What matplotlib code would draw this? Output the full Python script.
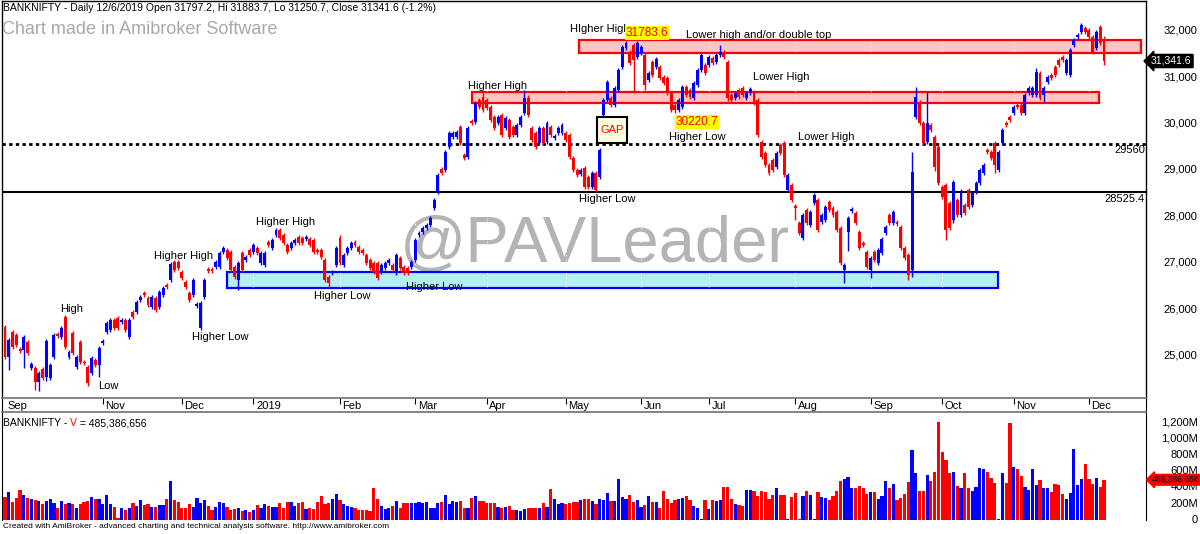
import matplotlib
matplotlib.use('Agg')
import matplotlib.pyplot as plt
from matplotlib.patches import Rectangle
import numpy as np

plt.rcParams['font.family'] = ['Liberation Sans', 'DejaVu Sans']

W, H = 1200, 534

# daily candles, Sep 2018 - 6 Dec 2019
opens = [
    25610, 24970, 25510, 25440, 25140, 25120, 25290, 24730, 24730, 24430,
    24710, 24540, 24510, 24970, 25460, 25400, 25830, 24970, 25480, 24750,
    25290, 24860, 24750, 24620, 24900, 24800, 25270, 25510, 25550, 25760,
    25810, 25720, 25760, 25400, 25940, 25940, 26200, 26350, 26240, 26050,
    26240, 26050, 26300, 26520, 26630, 27010, 27010, 26800, 26580, 26350,
    26300, 26070, 25590, 26260, 26860, 26860, 26910, 26910, 27230, 27270,
    27230, 26910, 26630, 27210, 27060, 27270, 27230, 27320, 26990, 26950,
    27450, 27320, 27600, 27700, 27600, 27380, 27320, 27420, 27550, 27530,
    27510, 27510, 27490, 27270, 27270, 27060, 26690, 26780, 26950, 27530,
    26950, 27210, 27320, 27450, 27340, 27270, 27170, 27060, 26990, 26990,
    26800, 26890, 26990, 26950, 26780, 27100, 26910, 26890, 26910, 27060,
    27600, 27660, 27750, 27810, 28180, 28520, 29020, 29000, 29490, 29710,
    29710, 29920, 29320, 29280, 30050, 30030, 30510, 30570, 30510, 30350,
    30140, 30010, 30180, 29900, 30080, 29920, 29750, 29970, 30230, 30550,
    29900, 29800, 29580, 29900, 29600, 29920, 29690, 29800, 29800, 29800,
    29750, 29260, 29000, 28910, 29040, 28850, 28630, 28930, 28850, 30180,
    30510, 30550, 30400, 30720, 31220, 31630, 31540, 31690, 31430, 31520,
    31480, 30940, 31320, 31220, 31220, 31000, 30980, 30660, 30400, 30290,
    30350, 30790, 30720, 30550, 30830, 31150, 31260, 31260, 31410, 31320,
    31480, 31540, 31320, 30610, 30550, 30720, 30760, 30550, 30660, 30680,
    30510, 29600, 29360, 29100, 29210, 29060, 29540, 29580, 28570, 28670,
    28220, 27850, 27530, 28140, 27810, 28290, 28350, 27880, 27920, 28310,
    28180, 28090, 27750, 26840, 27660, 28110, 28070, 27660, 27420, 27230,
    26840, 27230, 26990, 27210, 27640, 28030, 27850, 27880, 27770, 27320,
    27170, 26840, 30140, 30460, 30010, 29600, 29970, 29710, 29490, 28630,
    28670, 28290, 27920, 28350, 28030, 28240, 28570, 28240, 28520, 28720,
    28930, 29430, 29390, 29580, 29000, 29580, 30010, 30140, 30230, 30400,
    30400, 30230, 30660, 30610, 30610, 31090, 30610, 30890, 31040, 31220,
    31370, 31430, 31090, 31040, 31690, 31860, 31970, 32060, 32010, 31860,
    31630, 32080, 31797.2,
]
closes = [
    24970, 25330, 25180, 25230, 25100, 25400, 25050, 24820, 24430, 24620,
    24510, 25310, 24790, 25440, 25420, 25590, 25180, 25080, 25050, 24970,
    24860, 24840, 24410, 24950, 24800, 25160, 25310, 25700, 25760, 25590,
    25590, 25760, 25550, 25760, 25830, 26150, 26260, 26300, 26090, 26260,
    25980, 26370, 26450, 26480, 26970, 26840, 26880, 26670, 26480, 26200,
    26630, 26110, 26130, 26630, 26820, 26820, 27010, 27210, 27320, 27100,
    26840, 26690, 26990, 26840, 27120, 27170, 27380, 27210, 27210, 27210,
    27380, 27490, 27700, 27530, 27420, 27230, 27420, 27490, 27420, 27420,
    27550, 27380, 27230, 27230, 27120, 26630, 26560, 26800, 27320, 26990,
    27170, 27320, 27420, 27380, 27230, 27210, 26990, 26890, 26800, 26670,
    26950, 26990, 27060, 26840, 27170, 26890, 26780, 26780, 27010, 27490,
    27640, 27750, 27810, 27960, 28350, 28890, 28930, 29390, 29800, 29800,
    29820, 29580, 29260, 29900, 30010, 30440, 30350, 30290, 30330, 30080,
    29900, 30140, 29750, 30120, 29710, 29750, 29970, 30140, 30550, 30180,
    29640, 29490, 29900, 29580, 30010, 29750, 29730, 29900, 29970, 29640,
    29280, 29000, 28890, 29000, 28630, 28630, 28930, 28570, 29430, 30510,
    30890, 30400, 30770, 31150, 31650, 31730, 31300, 31370, 31730, 31650,
    30830, 31090, 31040, 31390, 30980, 30870, 30660, 30290, 30290, 30510,
    30790, 30610, 30570, 30870, 31150, 31480, 31090, 31430, 31300, 31480,
    31540, 31430, 30550, 30510, 30660, 30570, 30610, 30660, 30740, 30440,
    29750, 29280, 29100, 28930, 29000, 29360, 29360, 28890, 28890, 28350,
    28180, 27640, 28030, 27850, 28090, 28460, 27700, 28030, 28200, 28140,
    28030, 27700, 26990, 26950, 27960, 28160, 27850, 27320, 27380, 26910,
    27100, 27060, 27270, 27510, 27770, 27850, 28090, 27830, 27320, 27100,
    26730, 28950, 30570, 30010, 29580, 30010, 29860, 29060, 28720, 28420,
    27700, 27750, 28740, 28030, 28520, 28070, 28200, 28500, 28720, 29000,
    29100, 29390, 29260, 29100, 29390, 29860, 29970, 30080, 30350, 30350,
    30230, 30610, 30770, 30770, 31110, 30550, 30770, 31000, 30980, 31040,
    31260, 31370, 31370, 31580, 31800, 31910, 32120, 31970, 31860, 31540,
    31970, 31730, 31341.6,
]
# wick length above / below the body, in points
upper_wick = [
    40, 40, 40, 40, 40, 40, 40, 40, 40, 40,  40, 40, 40, 40, 40, 40, 40, 40, 40, 40,
    40, 40, 40, 40, 40, 40, 40, 40, 40, 40,  40, 40, 40, 40, 40, 40, 40, 40, 40, 40,
    40, 40, 40, 40, 40, 40, 40, 40, 40, 40,  40, 40, 40, 40, 40, 40, 40, 40, 40, 40,
    40, 40, 40, 40, 40, 40, 40, 40, 40, 40,  40, 40, 40, 40, 40, 40, 40, 40, 40, 40,
    40, 40, 40, 40, 40, 40, 40, 40, 40, 60,  40, 40, 40, 40, 40, 40, 40, 40, 40, 40,
    40, 40, 40, 40, 40, 40, 40, 40, 40, 40,  40, 40, 40, 40, 40, 40, 40, 40, 40, 40,
    40, 40, 40, 40, 40, 40, 40, 110, 40, 40, 40, 40, 40, 40, 40, 40, 40, 40, 170, 60,
    40, 40, 40, 40, 40, 40, 40, 40, 40, 40,  40, 40, 40, 40, 40, 40, 40, 40, 40, 40,
    40, 40, 40, 40, 40, 40, 40, 40, 53.6, 40, 40, 40, 40, 40, 40, 40, 40, 40, 40, 40,
    40, 40, 40, 40, 40, 40, 40, 40, 40, 40,  150, 40, 40, 40, 40, 40, 40, 40, 40, 40,
    40, 40, 40, 40, 40, 40, 40, 40, 40, 40,  40, 40, 40, 40, 40, 40, 40, 40, 40, 40,
    40, 40, 40, 40, 40, 40, 40, 40, 40, 40,  40, 40, 40, 40, 40, 40, 40, 40, 40, 40,
    40, 440, 220, 40, 40, 670, 40, 40, 40, 40, 40, 40, 40, 40, 60, 40, 40, 40, 40, 40,
    40, 40, 40, 40, 40, 40, 40, 40, 40, 40,  40, 40, 40, 40, 90, 40, 40, 40, 40, 40,
    40, 40, 40, 40, 40, 40, 40, 40, 40, 40,  40, 40, 86.5,
]
lower_wick = [
    40, 280, 40, 40, 40, 390, 40, 40, 170, 190, 40, 80, 40, 40, 40, 40, 40, 40, 40, 40,
    40, 40, 70, 40, 40, 260, 40, 40, 40, 40,  40, 40, 40, 40, 40, 40, 40, 40, 40, 40,
    40, 40, 40, 40, 40, 40, 40, 40, 40, 40,  40, 40, 40, 40, 40, 40, 40, 40, 40, 40,
    40, 40, 220, 40, 40, 40, 40, 40, 40, 40, 40, 40, 40, 40, 40, 40, 40, 40, 40, 40,
    40, 40, 40, 40, 40, 40, 110, 40, 40, 40, 40, 40, 40, 40, 40, 40, 40, 40, 40, 40,
    40, 40, 40, 40, 40, 40, 40, 40, 40, 40,  40, 40, 40, 40, 40, 40, 40, 40, 40, 40,
    40, 40, 40, 40, 40, 40, 40, 40, 40, 40,  40, 40, 40, 40, 40, 40, 40, 40, 40, 40,
    40, 40, 40, 40, 40, 40, 40, 40, 40, 40,  40, 40, 40, 40, 40, 40, 40, 40, 40, 60,
    40, 40, 40, 40, 40, 40, 40, 710, 40, 40, 100, 40, 40, 40, 40, 40, 40, 40, 69.3, 40,
    40, 40, 40, 40, 40, 40, 40, 40, 40, 40,  40, 40, 60, 40, 40, 40, 40, 40, 40, 40,
    40, 40, 40, 40, 40, 40, 40, 40, 40, 40,  260, 40, 40, 40, 40, 40, 40, 40, 40, 40,
    40, 40, 40, 280, 400, 40, 40, 40, 40, 40, 170, 40, 40, 40, 40, 40, 40, 40, 40, 40,
    100, 140, 40, 40, 40, 40, 40, 80, 40, 40, 210, 40, 60, 40, 40, 40, 40, 40, 40, 40,
    40, 40, 40, 170, 40, 40, 40, 40, 40, 40, 40, 40, 40, 40, 40, 40, 150, 40, 40, 40,
    40, 40, 40, 40, 40, 40, 40, 40, 40, 40,  40, 40, 90.9,
]
volume_m = [
    283, 338, 219, 274, 371, 304, 274, 262, 240, 232,
    190, 232, 262, 203, 148, 232, 190, 211, 190, 148,
    190, 219, 232, 287, 262, 253, 190, 308, 198, 160,
    30, 148, 127, 148, 211, 177, 245, 186, 190, 160,
    160, 181, 181, 262, 477, 240, 224, 148, 148, 198,
    160, 270, 211, 245, 169, 127, 160, 219, 203, 160,
    127, 135, 148, 106, 118, 93, 118, 181, 148, 194,
    170, 160, 160, 211, 148, 219, 219, 169, 203, 219,
    135, 148, 139, 219, 295, 190, 203, 253, 316, 245,
    190, 177, 160, 148, 127, 118, 118, 106, 388, 262,
    169, 139, 148, 169, 232, 148, 203, 203, 203, 203,
    219, 203, 219, 148, 148, 203, 219, 308, 190, 232,
    219, 232, 143, 143, 266, 295, 232, 232, 211, 203,
    203, 160, 148, 160, 177, 127, 118, 106, 135, 148,
    148, 148, 148, 211, 160, 380, 253, 190, 203, 190,
    203, 215, 224, 245, 253, 262, 232, 190,
    262, 240, 329, 232, 232, 498, 287, 253, 304, 224,
    245, 160, 181, 295, 219, 219, 148, 350, 262, 203,
    245, 262, 274, 295, 245, 177, 148, 8, 240, 135,
    240, 232, 245, 401, 401, 262, 198, 181, 169, 371,
    371, 359, 295, 359, 338, 253, 304, 392, 304, 304,
    8, 283, 329, 8, 295, 359, 304, 8, 338, 287,
    274, 245, 295, 359, 473, 498, 528, 388, 388, 422,
    388, 316, 338, 338, 262, 295, 473, 388, 443, 245,
    274, 316, 464, 852, 570, 350, 359, 557, 477, 591,
    1203, 836, 738, 570, 591, 420, 388, 582, 388, 359,
    401, 633, 625, 591, 515, 456, 8, 582, 456, 1190,
    654, 625, 540, 409, 371, 625, 430, 485, 388, 397,
    338, 443, 435, 316, 262, 329, 865, 430, 506, 684,
    506, 443, 519, 401, 485.386656,
]

month_labels = ['Sep', 'Nov', 'Dec', '2019', 'Feb', 'Mar', 'Apr', 'May',
                'Jun', 'Jul', 'Aug', 'Sep', 'Oct', 'Nov', 'Dec']
month_bars = [0, 26, 47, 66, 89, 109, 128, 149, 169, 187, 210, 230, 249, 268, 288]

levels = [29560, 28525.4]
price_ticks = [25000, 26000, 27000, 28000, 29000, 30000, 31000, 32000]
vol_ticks = [0, 200, 400, 600, 800, 1000, 1200]

o = np.array(opens)
c = np.array(closes)
hi = np.maximum(o, c) + np.array(upper_wick)
lo = np.minimum(o, c) - np.array(lower_wick)
x = np.arange(len(c))
colors = np.where(c >= o, '#0000ff', '#ff0000')

BLUE, RED = '#0000ff', '#ff0000'
X0, X1 = 2, 1146            # pixel span of the panes
PX_BAR = 1099 / (len(c) - 1)


def box(x0, y0, x1, y1):
    return [x0 / W, 1 - y1 / H, (x1 - x0) / W, (y1 - y0) / H]


def bar_at(px):
    return (px - 5) / PX_BAR


fig = plt.figure(figsize=(W / 100, H / 100), dpi=100)
ax = fig.add_axes(box(X0, 1, X1, 398))
axd = fig.add_axes(box(X0, 398, X1, 412))
axv = fig.add_axes(box(X0, 413, X1, 520))
xlim = (bar_at(X0), bar_at(X1))


def atext(px, py, s, **kw):
    # text placed by pixel position inside the price pane
    ax.text((px - X0) / (X1 - X0), (398 - py) / 397, s, transform=ax.transAxes, **kw)


# --- price pane ---
ax.set_xlim(*xlim)
ax.set_ylim(32661 - 21.55 * 398, 32661 - 21.55 * 1)
ax.set_xticks([])
ax.set_yticks([])
for s in ['top', 'left', 'right']:
    ax.spines[s].set_color('black')
    ax.spines[s].set_linewidth(1)
ax.spines['bottom'].set_visible(False)

atext(595, 245, '@PAVLeader', fontsize=47, color='#b4b4b4', ha='center', va='center', zorder=1)

zones = [
    (bar_at(579), bar_at(1141), 31520, 31790, '#ffc4c4', RED),
    (bar_at(472), bar_at(1099), 30435, 30685, '#ffc4c4', RED),
    (bar_at(227), bar_at(998), 26461, 26793, '#b4f0f0', BLUE),
]
for z0, z1, p0, p1, fc, ec in zones:
    ax.add_patch(Rectangle((z0, p0), z1 - z0, p1 - p0, fc=fc, ec=ec, lw=1.6, zorder=2))
for m in month_bars[1:]:
    ax.axvline(m, color='white', ls=(0, (1, 3)), lw=0.8, zorder=2.5)

ax.axhline(levels[0], color='black', ls=(0, (1.2, 1.2)), lw=2, zorder=3)
ax.axhline(levels[1], color='black', lw=1.5, zorder=3)
atext(1145, 150, '29560', ha='right', va='center', fontsize=8, zorder=6)
atext(1145, 199, '28525.4', ha='right', va='center', fontsize=8, zorder=6)

ax.vlines(x, lo, hi, colors=colors, lw=1.0, zorder=4)
ax.bar(x, np.maximum(np.abs(c - o), 18), bottom=np.minimum(o, c), width=0.78,
       color=colors, lw=0, zorder=5)

ax.add_patch(Rectangle((bar_at(597), 29580), bar_at(627) - bar_at(597), 560,
                       fc='#ffffe0', ec='black', lw=1.5, zorder=6))
atext(612, 130, 'GAP', color=RED, fontsize=8, ha='center', va='center', zorder=7)

labels = [
    (72, 309, 'High'), (108, 386, 'Low'), (184, 256, 'Higher High'),
    (220, 337, 'Higher Low'), (286, 222, 'Higher High'), (342, 296, 'Higher Low'),
    (434, 287, 'Higher Low'), (498, 86, 'Higher High'), (600, 29, 'HIgher High'),
    (759, 35, 'Lower high and/or double top'), (607, 199, 'Higher Low'),
    (697, 137, 'Higher Low'), (781, 77, 'Lower High'), (826, 137, 'Lower High'),
]
for px, py, s in labels:
    atext(px, py, s, fontsize=8, ha='center', va='center', zorder=7)
for px, py, s in [(647, 33, '31783.6'), (697, 122, '30220.7')]:
    atext(px, py, s, fontsize=8.5, color=RED, ha='center', va='center', zorder=8,
          bbox=dict(boxstyle='square,pad=0.1', fc='#ffff00', ec='none'))

for t in price_ticks:
    ax.text(1 + 51 / (X1 - X0), t, f'{t:,}', transform=ax.get_yaxis_transform(),
            ha='right', va='center', fontsize=8, clip_on=False)

fig.text(3 / W, 1 - 8 / H, 'BANKNIFTY - Daily 12/6/2019 Open 31797.2, Hi 31883.7, '
         'Lo 31250.7, Close 31341.6 (-1.2%)', fontsize=7.5, va='center', zorder=10)
fig.text(2 / W, 1 - 30 / H, 'Chart made in Amibroker Software', fontsize=13,
         color='#a8a8a8', va='center', zorder=10)
fig.text(1151 / W, 1 - 61 / H, f'{closes[-1]:,.1f}', color='white', fontsize=7.5,
         va='center', zorder=10,
         bbox=dict(boxstyle='larrow,pad=0.15', fc='black', ec='black'))

# --- date strip ---
axd.set_xlim(*xlim)
axd.set_ylim(0, 1)
axd.set_xticks([])
axd.set_yticks([])
for s in ['top', 'bottom']:
    axd.spines[s].set_color('#707070')
    axd.spines[s].set_linewidth(1.2)
axd.spines['left'].set_color('black')
axd.spines['right'].set_color('black')
for m, lab in zip(month_bars, month_labels):
    if m > 0:
        axd.vlines(m, 0.6, 1, color='black', lw=0.8)
    axd.text(m + 0.7, 0.42, lab, fontsize=8, va='center', ha='left')

# --- volume pane ---
axv.set_xlim(*xlim)
axv.set_ylim(0, 1200 * 106 / 97)
axv.bar(x, volume_m, width=0.85, color=colors, lw=0)
axv.set_xticks([])
axv.set_yticks([])
axv.spines['top'].set_visible(False)
axv.spines['bottom'].set_visible(False)
for s in ['left', 'right']:
    axv.spines[s].set_color('black')
for t in vol_ticks:
    axv.text(1 + 52 / (X1 - X0), t, '0' if t == 0 else f'{t:,}M',
             transform=axv.get_yaxis_transform(), ha='right', va='center',
             fontsize=8, clip_on=False)

vy = 519 - volume_m[-1] / 1200 * 97
fig.text(1152 / W, 1 - vy / H, f'{volume_m[-1] * 1e6:,.0f}', color='black', fontsize=6.2,
         va='center', zorder=10,
         bbox=dict(boxstyle='larrow,pad=0.1', fc=RED, ec=RED))

fig.canvas.draw()
r = fig.canvas.get_renderer()
t1 = fig.text(3 / W, 1 - 423 / H, 'BANKNIFTY - ', fontsize=7.5, va='center')
bb = t1.get_window_extent(r)
t2 = fig.text(bb.x1 / W, 1 - 423 / H, 'V', fontsize=7.5, va='center', color=RED)
bb = t2.get_window_extent(r)
fig.text(bb.x1 / W, 1 - 423 / H, f' = {volume_m[-1] * 1e6:,.0f}', fontsize=7.5, va='center')

fig.text(3 / W, 1 - 527 / H, 'Created with AmiBroker - advanced charting and technical '
         'analysis software. http://www.amibroker.com', fontsize=6, va='center')

fig.savefig('out.png', dpi=100)
